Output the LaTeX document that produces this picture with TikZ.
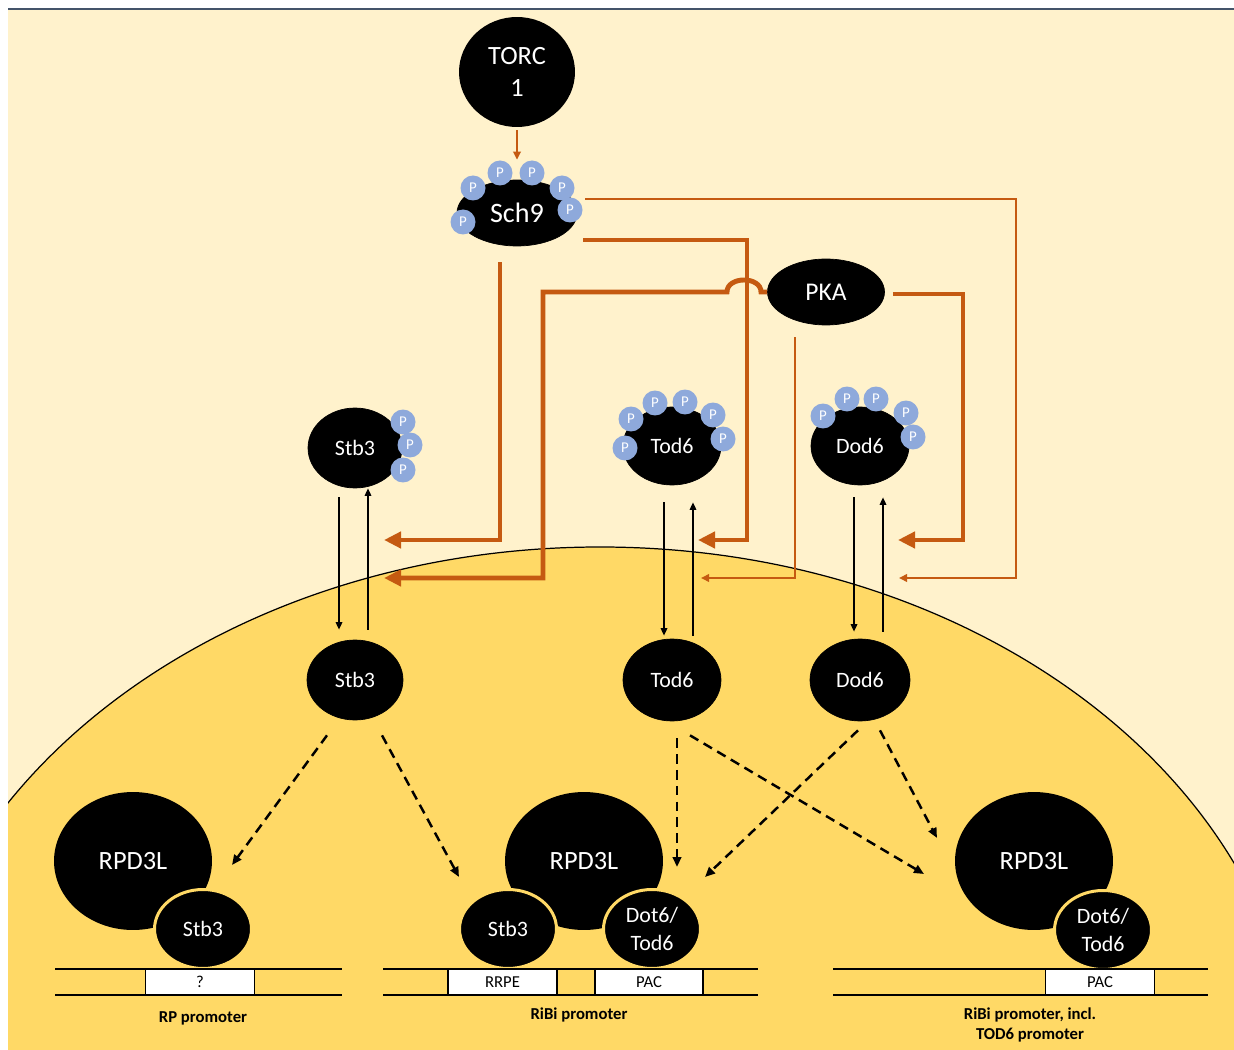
\documentclass[tikz,border=0pt]{standalone}
\usepackage{fontspec}
\setmainfont{Carlito}
\usetikzlibrary{shapes.geometric,arrows.meta}
\definecolor{cytcol}{HTML}{FFF2CC}
\definecolor{nuccol}{HTML}{FFD966}
\definecolor{orcol}{HTML}{C55A11}
\definecolor{pcol}{HTML}{8EA9DB}
\definecolor{edgecol}{HTML}{44546A}
\begin{document}
\begin{tikzpicture}
    [x=0.02cm,y=-0.02cm,
    prot/.style={ellipse,fill=black,draw=black,text=white,inner sep=0pt,align=center,font=\fontsize{12.5}{15.5}\selectfont},
    phos/.style={circle,fill=pcol,text=white,inner sep=0pt,minimum size=0.5cm,font=\fontsize{8.5}{9}\selectfont},
    bound/.style={prot,draw=nuccol,line width=0.06cm,minimum width=1.94cm,minimum height=1.58cm},
    rpd/.style={ellipse,fill=black,text=white,inner sep=0pt,minimum width=3.16cm,minimum height=2.76cm,font=\fontsize{15}{18}\selectfont},
    pbox/.style={rectangle,fill=white,draw=black,line width=0.7pt,minimum height=0.52cm,inner sep=0pt,font=\fontsize{9.5}{11}\selectfont},
    plabel/.style={align=center,font=\bfseries\fontsize{9.5}{11.5}\selectfont},
    dna/.style={line width=1.1pt},
    thickor/.style={draw=orcol,line width=2.8pt,-{Triangle[length=0.34cm,width=0.32cm]}},
    thinor/.style={draw=orcol,line width=1.1pt,-{Triangle[length=0.16cm,width=0.15cm]}},
    blk/.style={line width=0.9pt,-{Triangle[length=0.15cm,width=0.13cm]}},
    dsh/.style={line width=1.4pt,dash pattern=on 5.5pt off 3.5pt,-{Triangle[length=0.2cm,width=0.17cm]}}]
    \useasboundingbox (0,0) rectangle (1234,1050);
    %cytoplasm and nucleus
    \fill[cytcol] (8,9) rectangle (1234,1050);
    \draw[edgecol,line width=0.9pt] (8,9) -- (1234,9);
    \begin{scope}
        \clip (8,9) rectangle (1234,1050);
        \filldraw[fill=nuccol,draw=black,line width=0.7pt] (600,1096) ellipse (700 and 549);
    \end{scope}
    %RPD3L complexes
    \node[rpd] (rpdA) at (133,861) {RPD3L};
    \node[bound] (stbA) at (203,929) {Stb3};
    \node[rpd] (rpdB) at (584,861) {RPD3L};
    \node[bound] (stbB) at (508,929) {Stb3};
    \node[bound] (dotB) at (652,929) {Dot6/\\Tod6};
    \node[rpd] (rpdC) at (1034,861) {RPD3L};
    \node[bound] (dotC) at (1103,930) {Dot6/\\Tod6};
    %promoters
    \draw[dna] (55,969) -- (342,969) (55,995) -- (342,995);
    \node[pbox,minimum width=2.18cm] (boxA) at (200,982) {?};
    \draw[dna] (383,969) -- (758,969) (383,995) -- (758,995);
    \node[pbox,minimum width=2.18cm] (rrpe) at (502.5,982) {RRPE};
    \node[pbox,minimum width=2.16cm] (pacB) at (649,982) {PAC};
    \draw[dna] (833,969) -- (1208,969) (833,995) -- (1208,995);
    \node[pbox,minimum width=2.18cm] (pacC) at (1100,982) {PAC};
    \node[plabel] (labA) at (203,1018) {RP promoter};
    \node[plabel] (labB) at (579,1015) {RiBi promoter};
    \node[plabel] (labC) at (1030,1025) {RiBi promoter, incl.\\TOD6 promoter};
    %kinases
    \node[ellipse,fill=black,text=white,inner sep=0pt,minimum width=2.32cm,minimum height=2.2cm,align=center,font=\fontsize{15}{18}\selectfont] (torc) at (517,72) {TORC\\1};
    \node[prot,minimum width=2.4cm,minimum height=1.32cm,font=\fontsize{16}{18}\selectfont] (sch9) at (517,213) {Sch9};
    \foreach \px/\py [count=\i] in {463/222,473/188,500/173,532/173,562/188,570/210}
        \node[phos] (sp\i) at (\px,\py) {P};
    \node[prot,minimum width=2.34cm,minimum height=1.32cm,font=\fontsize{14.5}{17}\selectfont] (pka) at (826,292) {PKA};
    %cytoplasmic repressors
    \node[prot,minimum width=1.88cm,minimum height=1.6cm] (stbp) at (355,448) {Stb3};
    \foreach \px/\py [count=\i] in {403/422,410/445,403/470}
        \node[phos] (bp\i) at (\px,\py) {P};
    \node[prot,minimum width=1.96cm,minimum height=1.56cm] (todp) at (672,446) {Tod6};
    \foreach \px/\py [count=\i] in {625/448,631/419,655/403,685/402,713/415,723/439}
        \node[phos] (tp\i) at (\px,\py) {P};
    \node[prot,minimum width=1.96cm,minimum height=1.56cm] (dodp) at (860,446) {Dod6};
    \foreach \px/\py [count=\i] in {823/416,847/399,876/399,906/413,913/437}
        \node[phos] (dp\i) at (\px,\py) {P};
    %nuclear repressors
    \node[prot,minimum width=1.92cm,minimum height=1.6cm] (stbn) at (355,680) {Stb3};
    \node[prot,minimum width=1.96cm,minimum height=1.64cm] (todn) at (672,680) {Tod6};
    \node[prot,minimum width=2cm,minimum height=1.64cm] (dodn) at (860,680) {Dod6};
    %import and export
    \draw[blk,shorten <=0.18cm,shorten >=0.2cm] ([xshift=-0.32cm]stbp.south) -- ([xshift=-0.32cm]stbn.north);
    \draw[blk,shorten <=0.2cm] ([xshift=0.26cm]stbn.north) -- ([xshift=0.26cm]stbp.south);
    \draw[blk,shorten <=0.34cm,shorten >=0.06cm] ([xshift=-0.16cm]todp.south) -- ([xshift=-0.16cm]todn.north);
    \draw[blk,shorten <=0.06cm,shorten >=0.34cm] ([xshift=0.42cm]todn.north) -- ([xshift=0.42cm]todp.south);
    \draw[blk,shorten <=0.24cm,shorten >=0.14cm] ([xshift=-0.12cm]dodp.south) -- ([xshift=-0.12cm]dodn.north);
    \draw[blk,shorten <=0.14cm,shorten >=0.24cm] ([xshift=0.46cm]dodn.north) -- ([xshift=0.46cm]dodp.south);
    %arrow targets
    \coordinate (stbin) at (384,540);
    \coordinate (stbin2) at (384,578);
    \coordinate (todin) at (698,540);
    \coordinate (todin2) at (701,578);
    \coordinate (dodin) at (898,540);
    \coordinate (dodin2) at (899,578);
    %TORC1 and Sch9
    \draw[thinor,shorten <=0.06cm,shorten >=0.4cm] (torc) -- (sch9);
    \draw[thickor] ([shift={(-17,16)}]sch9.south) |- (stbin);
    \draw[thickor] ([shift={(6,27)}]sch9.east) -| ([xshift=0.98cm]todin) -- (todin);
    \draw[thinor] ([shift={(8,-14)}]sch9.east) -| ([xshift=2.34cm]dodin2) -- (dodin2);
    %PKA
    \draw[thickor] (pka.west) -- (761,292) .. controls (761,276) and (727,276) .. (727,292) -| ([xshift=3.18cm]stbin2) -- (stbin2);
    \draw[thinor] ([shift={(-31,12)}]pka.south) |- (todin2);
    \draw[thickor] ([shift={(8,2)}]pka.east) -| ([xshift=1.3cm]dodin) -- (dodin);
    %binding to promoters
    \coordinate (dA) at (232,865);
    \coordinate (dB) at (459,877);
    \coordinate (dC) at (677,867);
    \coordinate (dD) at (924,874);
    \coordinate (dE) at (705,877);
    \coordinate (dF) at (937,838);
    \draw[dsh] ([shift={(-28,15)}]stbn.south) -- (dA);
    \draw[dsh] ([shift={(27,15)}]stbn.south) -- (dB);
    \draw[dsh] ([shift={(5,17)}]todn.south) -- (dC);
    \draw[dsh] ([shift={(18,14)}]todn.south) -- (dD);
    \draw[dsh] ([shift={(-2,9)}]dodn.south) -- (dE);
    \draw[dsh] ([shift={(20,9)}]dodn.south) -- (dF);
\end{tikzpicture}
\end{document}
